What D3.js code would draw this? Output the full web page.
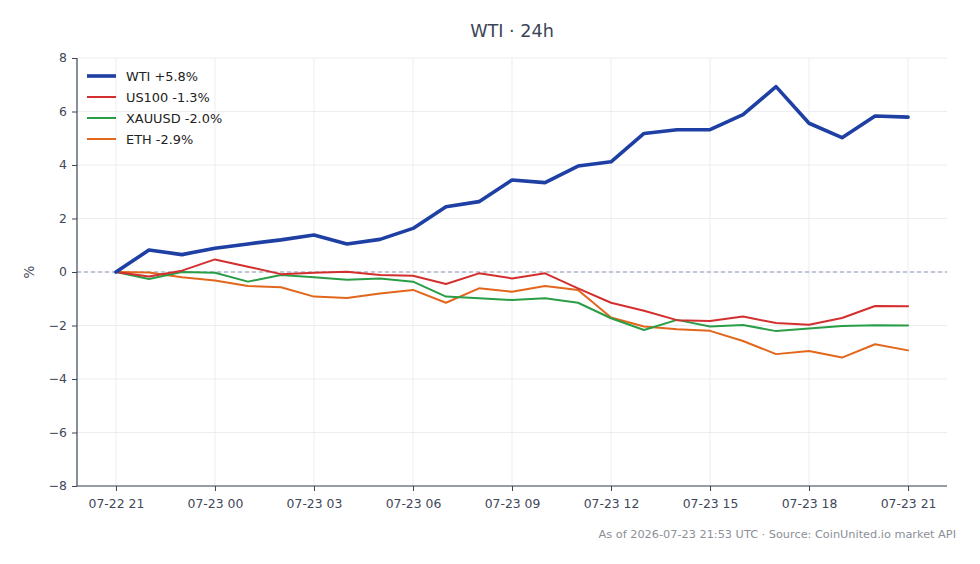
<!DOCTYPE html>
<html><head><meta charset="utf-8">
<script src="https://cdn.jsdelivr.net/npm/d3@7"></script>
<style>body{margin:0;background:#fff;}svg{display:block;font-family:"DejaVu Sans",sans-serif;}</style>
</head><body><svg id="c" width="980" height="564"></svg>
<script>
const hours = d3.range(0, 25); // hours since 07-22 21:00 UTC
const seriesNames = ["WTI", "US100", "XAUUSD", "ETH"];
const legendLabels = ["WTI +5.8%", "US100 -1.3%", "XAUUSD -2.0%", "ETH -2.9%"];
const wti = [0, 0.82, 0.65, 0.89, 1.05, 1.2, 1.38, 1.05, 1.22, 1.63, 2.44, 2.63, 3.44, 3.34, 3.96, 4.12, 5.18, 5.32, 5.32, 5.88, 6.93, 5.56, 5.02, 5.83, 5.79];
const us100 = [0, -0.17, 0.05, 0.47, 0.2, -0.08, -0.03, 0.01, -0.11, -0.14, -0.45, -0.05, -0.24, -0.05, -0.61, -1.15, -1.45, -1.8, -1.83, -1.66, -1.91, -1.97, -1.72, -1.27, -1.28];
const xauusd = [0, -0.26, 0, -0.03, -0.36, -0.11, -0.2, -0.29, -0.24, -0.36, -0.92, -0.98, -1.05, -0.98, -1.15, -1.73, -2.17, -1.79, -2.04, -1.98, -2.21, -2.11, -2.02, -1.99, -2.0];
const eth = [0, -0.02, -0.2, -0.32, -0.52, -0.57, -0.92, -0.97, -0.8, -0.67, -1.15, -0.61, -0.74, -0.52, -0.67, -1.7, -2.04, -2.14, -2.2, -2.58, -3.07, -2.95, -3.2, -2.7, -2.93];
const xTickHours = [0, 3, 6, 9, 12, 15, 18, 21, 24];
const xTickLabels = ["07-22 21", "07-23 00", "07-23 03", "07-23 06", "07-23 09", "07-23 12", "07-23 15", "07-23 18", "07-23 21"];
const yTicks = [-8, -6, -4, -2, 0, 2, 4, 6, 8];
const title = "WTI · 24h";
const footer = "As of 2026-07-23 21:53 UTC · Source: CoinUnited.io market API";

const colors = ["#1e3fa3", "#d32f2f", "#2a9d47", "#e2661c"];
const widths = [3.6, 2, 2, 2];
const allSeries = [wti, us100, xauusd, eth];

const svg = d3.select("#c");
const L = 77, R = 947, T = 58, B = 486;
const x = d3.scaleLinear().domain([-1.18, 25.18]).range([L, R]);
const y = d3.scaleLinear().domain([-8, 8]).range([B, T]);

// grid
const g = svg.append("g");
g.selectAll(".vg").data(xTickHours).join("line")
  .attr("x1", d => x(d)).attr("x2", d => x(d)).attr("y1", T).attr("y2", B)
  .attr("stroke", "#e6e8ec").attr("stroke-width", 0.8);
g.selectAll(".hg").data(yTicks).join("line")
  .attr("x1", L).attr("x2", R).attr("y1", d => y(d)).attr("y2", d => y(d))
  .attr("stroke", "#e6e8ec").attr("stroke-width", 0.8);

// zero line
svg.append("line").attr("x1", L).attr("x2", R).attr("y1", y(0)).attr("y2", y(0))
  .attr("stroke", "#8c9bb0").attr("stroke-width", 1).attr("stroke-dasharray", "4,3");

// axes
const xAxis = d3.axisBottom(x).tickValues(xTickHours).tickFormat((d, i) => xTickLabels[i]).tickSize(5).tickPadding(8);
const gx = svg.append("g").attr("transform", `translate(0,${B})`).call(xAxis);
gx.select(".domain").attr("d", `M${L},0H${R}`);
const yAxis = d3.axisLeft(y).tickValues(yTicks).tickFormat(d => d3.format("")(d).replace("-", "\u2212")).tickSize(5).tickPadding(5);
const gy = svg.append("g").attr("transform", `translate(${L},0)`).call(yAxis);
gy.select(".domain").attr("d", `M0,${T}V${B}`);
[gx, gy].forEach(a => {
  a.select(".domain").attr("stroke", "#3b4556").attr("stroke-width", 1.2);
  a.selectAll(".tick line").attr("stroke", "#3b4556");
  a.selectAll(".tick text").attr("fill", "#3f4858").style("font-size", "12.4px").style("font-family", "DejaVu Sans");
});

// lines (draw thin first, WTI last on top)
const line = d3.line().x((d, i) => x(hours[i])).y(d => y(d));
[3, 2, 1, 0].forEach(k => {
  svg.append("path").datum(allSeries[k]).attr("d", line)
    .attr("fill", "none").attr("stroke", colors[k]).attr("stroke-width", widths[k])
    .attr("stroke-linejoin", "round").attr("stroke-linecap", "round");
});

// legend
const lg = svg.append("g");
legendLabels.forEach((t, i) => {
  const yy = 76 + i * 21;
  lg.append("line").attr("x1", 87).attr("x2", 116).attr("y1", yy).attr("y2", yy)
    .attr("stroke", colors[i]).attr("stroke-width", widths[i]);
  lg.append("text").attr("x", 126).attr("y", yy + 4.6).text(t)
    .attr("fill", "#222").style("font-size", "12.9px");
});

// y label
svg.append("text").attr("transform", `translate(34,${y(0)}) rotate(-90)`)
  .attr("text-anchor", "middle").attr("fill", "#3f4858").style("font-size", "13.5px").text("%");

// title
svg.append("text").attr("x", 512).attr("y", 37).attr("text-anchor", "middle")
  .attr("fill", "#3b4556").style("font-size", "17.6px").text(title);

// footer
svg.append("text").attr("x", 956).attr("y", 538).attr("text-anchor", "end")
  .attr("fill", "#8a8f98").style("font-size", "11.3px").text(footer);
</script></body></html>
